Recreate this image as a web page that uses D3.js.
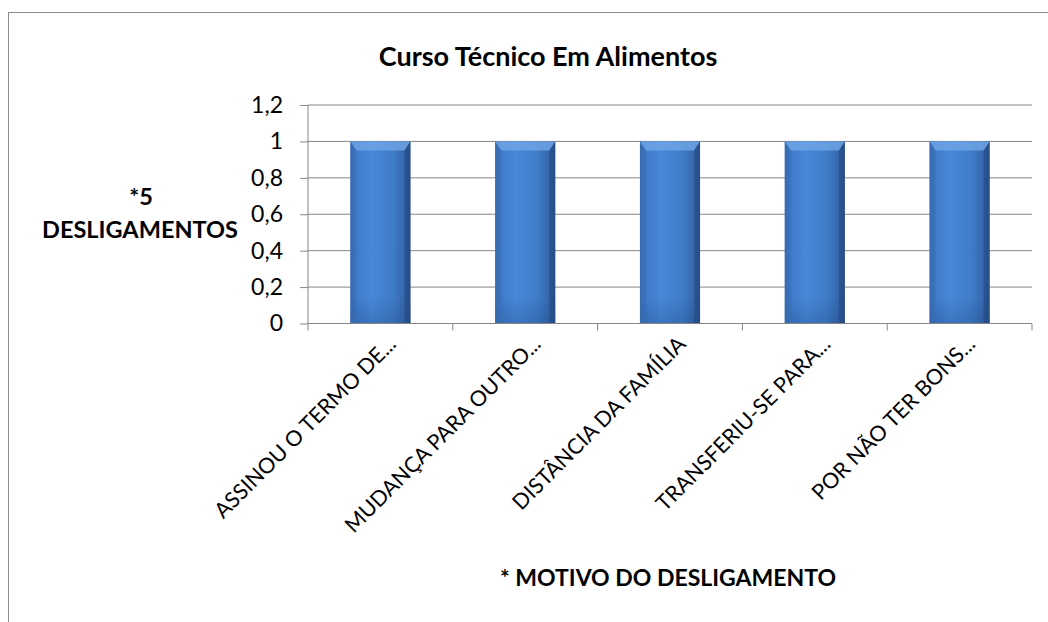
<!DOCTYPE html>
<html><head><meta charset="utf-8">
<script src="https://cdn.jsdelivr.net/npm/d3@7"></script>
<style>body{margin:0;background:#fff;}svg{display:block;font-family:Lato,"Open Sans",sans-serif;}</style>
</head><body>
<svg id="c" width="1048" height="622"></svg>
<script>
const categories = ["ASSINOU O TERMO DE...", "MUDANÇA PARA OUTRO...", "DISTÂNCIA DA FAMÍLIA", "TRANSFERIU-SE PARA...", "POR NÃO TER BONS..."];
const values = [1, 1, 1, 1, 1];
const yTicks = [0, 0.2, 0.4, 0.6, 0.8, 1, 1.2];
const yTickLabels = ["0", "0,2", "0,4", "0,6", "0,8", "1", "1,2"];
const title = "Curso Técnico Em Alimentos";
const yTitle = ["*5", "DESLIGAMENTOS"];
const xTitle = "* MOTIVO DO DESLIGAMENTO";

const svg = d3.select("#c");
const m = {left: 308, right: 1032, top: 105, bottom: 323.5};

// outer frame
svg.append("rect").attr("x", 8.5).attr("y", 12.5).attr("width", 1060).attr("height", 640)
  .attr("fill", "none").attr("stroke", "#8c8c8c").attr("stroke-width", 1);

const defs = svg.append("defs");
const g1 = defs.append("linearGradient").attr("id", "barG").attr("x1", 0).attr("x2", 1).attr("y1", 0).attr("y2", 0);
[[0, "#3566a8"], [0.12, "#3f7ccb"], [0.35, "#4788d8"], [0.7, "#3f7cc8"], [0.9, "#3567ad"], [1, "#2a5490"]]
  .forEach(([o, c]) => g1.append("stop").attr("offset", o).attr("stop-color", c));
const g2 = defs.append("linearGradient").attr("id", "barV").attr("x1", 0).attr("x2", 0).attr("y1", 0).attr("y2", 1);
[[0, "#ffffff", 0], [0.85, "#1a3d70", 0.0], [1, "#1a3d70", 0.25]]
  .forEach(([o, c, a]) => g2.append("stop").attr("offset", o).attr("stop-color", c).attr("stop-opacity", a));

const x = d3.scaleBand().domain(categories).range([m.left, m.right]).paddingInner(0.585).paddingOuter(0.2925);
const xb = d3.scaleBand().domain(categories).range([m.left, m.right]);
const y = d3.scaleLinear().domain([0, 1.2]).range([m.bottom, m.top]);

// gridlines
svg.append("g").selectAll("line").data(yTicks.filter(d => d > 0)).join("line")
  .attr("x1", m.left).attr("x2", m.right).attr("y1", d => y(d)).attr("y2", d => y(d))
  .attr("stroke", "#868686").attr("stroke-width", 1);

// y axis
const yAxis = d3.axisLeft(y).tickValues(yTicks).tickSize(8).tickPadding(17)
  .tickFormat((d, i) => yTickLabels[i]);
const ya = svg.append("g").attr("transform", `translate(${m.left},0)`).call(yAxis);
ya.select(".domain").attr("stroke", "#868686").attr("d", `M-0,${m.top}V${m.bottom}`);
ya.selectAll(".tick line").attr("stroke", "#868686");
ya.selectAll("text").attr("font-size", 23).attr("fill", "#000").attr("font-family", "Lato");

// bars
const bars = svg.append("g").selectAll("g").data(categories).join("g");
bars.append("rect").attr("x", d => x(d)).attr("width", x.bandwidth())
  .attr("y", (d, i) => y(values[i])).attr("height", (d, i) => y(0) - y(values[i]))
  .attr("fill", "url(#barG)");
bars.append("rect").attr("x", d => x(d)).attr("width", x.bandwidth())
  .attr("y", (d, i) => y(values[i])).attr("height", (d, i) => y(0) - y(values[i]))
  .attr("fill", "url(#barV)");
bars.append("path").attr("d", (d, i) => {
  const x0 = x(d), x1 = x(d) + x.bandwidth(), yt = y(values[i]);
  return `M${x0},${yt}H${x1}L${x1 - 6},${yt + 9}H${x0 + 6}Z`;
}).attr("fill", "#6fa3e4").attr("opacity", 0.85);
bars.append("path").attr("d", (d, i) => {
  const x0 = x(d), yt = y(values[i]);
  return `M${x0},${yt}L${x0 + 6},${yt + 9}V${y(0)}H${x0}Z`;
}).attr("fill", "#3a70b8").attr("opacity", 0.6);
bars.append("path").attr("d", (d, i) => {
  const x1 = x(d) + x.bandwidth(), yt = y(values[i]);
  return `M${x1},${yt}L${x1 - 6},${yt + 9}V${y(0)}H${x1}Z`;
}).attr("fill", "#244a82").attr("opacity", 0.6);

// x axis
svg.append("line").attr("x1", m.left).attr("x2", m.right).attr("y1", m.bottom).attr("y2", m.bottom).attr("stroke", "#868686");
const bounds = categories.map(c => xb(c)).concat([m.right]);
svg.append("g").selectAll("line").data(bounds).join("line")
  .attr("x1", d => d).attr("x2", d => d).attr("y1", m.bottom).attr("y2", m.bottom + 7)
  .attr("stroke", "#868686");

// category labels
svg.append("g").selectAll("text").data(categories).join("text")
  .attr("transform", d => `translate(${xb(d) + xb.bandwidth() / 2 + 17},${m.bottom + 22}) rotate(-45)`)
  .attr("text-anchor", "end").attr("font-size", 21.5).attr("fill", "#000")
  .text(d => d);

// titles
svg.append("text").attr("x", 548).attr("y", 66).attr("text-anchor", "middle")
  .attr("font-size", 27).attr("font-weight", "bold").text(title);
svg.append("text").attr("x", 141).attr("y", 205).attr("text-anchor", "middle")
  .attr("font-size", 23.5).attr("font-weight", "bold").text(yTitle[0]);
svg.append("text").attr("x", 140).attr("y", 238).attr("text-anchor", "middle")
  .attr("font-size", 23.5).attr("font-weight", "bold").text(yTitle[1]);
svg.append("text").attr("x", 668).attr("y", 586).attr("text-anchor", "middle")
  .attr("font-size", 23).attr("font-weight", "bold").text(xTitle);
</script>
</body></html>
